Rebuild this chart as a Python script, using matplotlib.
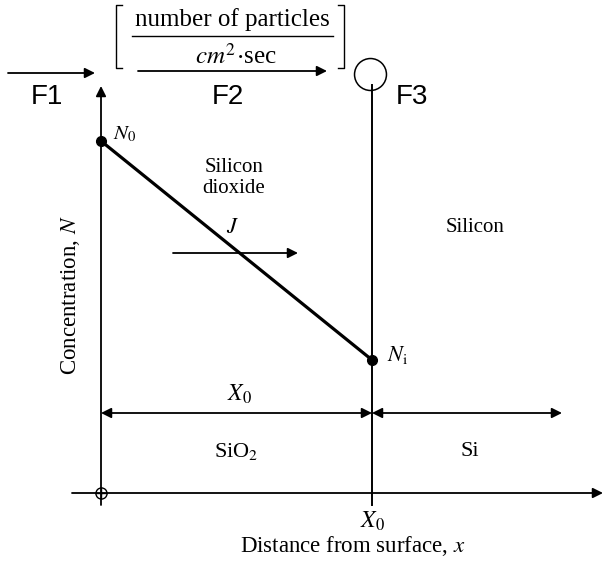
import numpy as np
import matplotlib
matplotlib.use("Agg")
import matplotlib.pyplot as plt

plt.rcParams['mathtext.fontset'] = 'stix'

# data: concentration profile across the oxide (x in units of X0, N in units of N0)
x_profile = [0.0, 1.0]
N_profile = [1.0, 0.378]
point_labels = [r'$N_0$', r'$N_{\rm i}$']

# pixel layout of the original picture -> data units
PX0, PY0 = 101, 493      # origin in pixels
SX, SY = 271.0, 352.0    # pixels per unit


def P(px, py):
    return (px - PX0) / SX, (PY0 - py) / SY


fig = plt.figure(figsize=(6.08, 5.67), dpi=100)
ax = fig.add_axes([0, 0, 1, 1])
ax.set_xlim(P(0, 0)[0], P(608, 0)[0])
ax.set_ylim(P(0, 567)[1], P(0, 0)[1])
ax.axis('off')

serif = 'Liberation Serif'
sans = 'Liberation Sans'


def arrow(p0, p1, style='-|>', lw=1.3, ms=15):
    ax.annotate('', xy=P(*p1), xytext=P(*p0),
                arrowprops=dict(arrowstyle=style, lw=lw, color='k',
                                mutation_scale=ms, shrinkA=0, shrinkB=0))


# axes
arrow((101, 505), (101, 86))
arrow((72, 493), (603, 493))
ax.plot(*P(101, 493), marker='o', ms=8, mfc='none', mec='k', mew=1.0)
ax.plot(*P(101, 493), marker='+', ms=8, mec='k', mew=1.0)

# interface line and circle at its top
ax.plot([P(372, 85)[0], P(372, 505)[0]], [P(372, 85)[1], P(372, 505)[1]], color='k', lw=1.4)
ax.plot(*P(370, 74), marker='o', ms=23, mfc='none', mec='k', mew=1.1)

# concentration profile
ax.plot(x_profile, N_profile, color='k', lw=2.3, solid_capstyle='round')
ax.plot(x_profile, N_profile, 'o', color='k', ms=7)
ax.text(x_profile[0] + 12 / SX, N_profile[0] + 7 / SY, point_labels[0],
        fontsize=15, ha='left', va='center')
ax.text(x_profile[1] + 15 / SX, N_profile[1] + 5 / SY, point_labels[1],
        fontsize=16, ha='left', va='center')

# labels inside
ax.text(*P(234, 178), 'Silicon\ndioxide', family=serif, fontsize=15,
        ha='center', va='center', linespacing=1.1)
ax.text(*P(233, 227), r'$J$', fontsize=16, ha='center', va='center')
arrow((173, 253), (298, 253))
ax.text(*P(475, 228), 'Silicon', family=serif, fontsize=15, ha='center', va='center')

ax.text(*P(239, 394), r'$X_0$', fontsize=17, ha='center', va='center')
arrow((101, 413), (372, 413), style='<|-|>')
arrow((372, 413), (562, 413), style='<|-|>')
ax.text(*P(236, 451), r'SiO$_2$', family=serif, fontsize=16, ha='center', va='center')
ax.text(*P(470, 451), 'Si', family=serif, fontsize=16, ha='center', va='center')

ax.text(*P(372, 521), r'$X_0$', fontsize=17, ha='center', va='center')
ax.text(*P(353, 546), r'Distance from surface, $x$', family=serif, fontsize=16.5,
        ha='center', va='center')
ax.text(*P(70, 295), r'Concentration, $N$', family=serif, fontsize=16.5,
        ha='center', va='center', rotation=90)

# top flux notation
arrow((8, 73), (95, 73))
arrow((138, 71), (327, 71))
ax.text(*P(47, 97), 'F1', family=sans, fontsize=20, ha='center', va='center')
ax.text(*P(228, 97), 'F2', family=sans, fontsize=20, ha='center', va='center')
ax.text(*P(412, 97), 'F3', family=sans, fontsize=20, ha='center', va='center')

ax.text(*P(232, 20), 'number of particles', family=serif, fontsize=18,
        ha='center', va='center')
ax.plot([P(132, 0)[0], P(333, 0)[0]], [P(0, 36)[1]] * 2, color='k', lw=1.0)
ax.text(*P(236, 56), r'$cm^2\!\cdot\!$sec', family=serif, fontsize=18,
        ha='center', va='center')
for bx, d in [(116, 1), (344, -1)]:
    xs = [P(bx + 6 * d, 0)[0], P(bx, 0)[0], P(bx, 0)[0], P(bx + 6 * d, 0)[0]]
    ys = [P(0, 5)[1], P(0, 5)[1], P(0, 68)[1], P(0, 68)[1]]
    ax.plot(xs, ys, color='k', lw=1.0)

fig.savefig('out.png', dpi=100)
